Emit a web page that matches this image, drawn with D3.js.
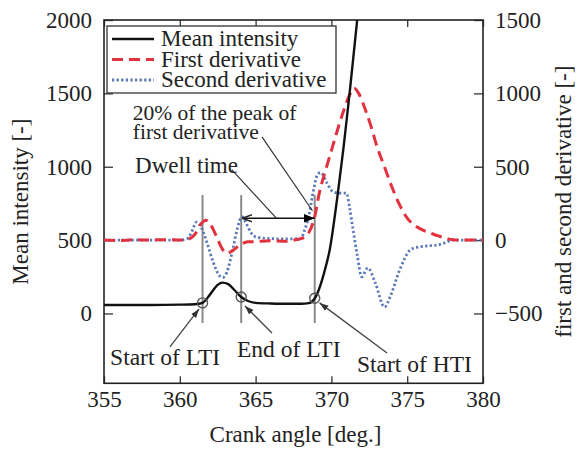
<!DOCTYPE html>
<html><head><meta charset="utf-8">
<script src="https://cdn.jsdelivr.net/npm/d3@7"></script>
<style>
html,body{margin:0;padding:0;background:#fff;}
text{font-family:"Liberation Serif","Times New Roman",serif;fill:#222;}
</style></head>
<body><svg id="chart" width="577" height="450"></svg>
<script>
// ---- data ----
const xTicks = [355, 360, 365, 370, 375, 380];
const leftTicks = [0, 500, 1000, 1500, 2000];
const rightTicks = [-500, 0, 500, 1000, 1500];
const rightTickLabels = ["\u2212500", "0", "500", "1000", "1500"];

const meanX = [355, 358, 360, 361, 361.5, 362, 362.5, 362.8, 363.2, 363.6, 364.05, 364.5, 365, 366, 367, 368, 368.5, 368.9, 369.2, 369.5, 369.9, 370.4, 370.8, 371.2, 371.7, 372.1];
const meanY = [58, 58, 60, 63, 72, 130, 195, 210, 200, 160, 112, 85, 72, 68, 66, 66, 70, 102, 170, 270, 440, 800, 1130, 1500, 2000, 2400];

const firstX = [355, 356, 357, 358, 359, 360, 360.5, 361, 361.4, 361.7, 362, 362.4, 362.8, 363.1, 363.5, 364, 364.5, 365, 366, 367, 367.5, 368, 368.5, 368.9, 369.2, 369.6, 370, 370.4, 370.8, 371.2, 371.5, 371.8, 372.2, 372.6, 373, 373.5, 374, 374.5, 375, 375.5, 376, 376.5, 377, 377.5, 378, 379, 380];
const firstY = [0, -3, 2, 0, 3, 0, 5, 40, 110, 136, 110, 30, -60, -90, -70, -30, -12, -10, -5, -8, 0, 10, 50, 160, 320, 470, 610, 750, 880, 990, 1035, 1000, 900, 780, 640, 500, 360, 240, 150, 100, 70, 50, 30, 15, 3, 0, 0];

const secondX = [355, 356, 357, 358, 359, 360, 360.5, 360.8, 361.1, 361.4, 361.8, 362.2, 362.6, 362.85, 363.1, 363.5, 363.8, 364.1, 364.4, 364.7, 365, 366, 367, 368, 368.2, 368.5, 368.8, 369.1, 369.3, 369.7, 370.1, 370.5, 371.0, 371.2, 371.4, 371.7, 372.0, 372.4, 372.9, 373.5, 373.9, 374.5, 375.2, 375.7, 376.5, 377, 377.5, 378, 379, 380];
const secondY = [0, 0, 0, 0, 0, 0, 10, 60, 123, 90, -20, -150, -240, -255, -220, -60, 80, 159, 110, 50, 22, 10, 8, 10, 60, 160, 330, 450, 460, 390, 330, 320, 320, 220, 90, -100, -250, -190, -293, -456, -380, -204, -68, -48, -38, -34, -18, 0, 0, 0];

const eventNames = ["Start of LTI", "End of LTI", "Start of HTI"];
const eventX = [361.5, 364.05, 368.9];
const eventY = [72, 112, 104];
const legendNames = ["Mean intensity", "First derivative", "Second derivative"];

// ---- layout ----
const svg = d3.select("#chart");
const L = 104, R = 483, T = 20, B = 383.3;
const x = d3.scaleLinear().domain([355, 380]).range([L, R]);
const yL = d3.scaleLinear().domain([-476, 2000]).range([B, T]);
const yR = d3.scaleLinear().domain([-976, 1500]).range([B, T]);
const FONT = '"Liberation Serif","Times New Roman",serif';

const defs = svg.append("defs");
defs.append("clipPath").attr("id", "clip").append("rect")
  .attr("x", L).attr("y", T).attr("width", R - L).attr("height", B - T);
defs.append("marker").attr("id", "ah").attr("viewBox", "0 0 10 10")
  .attr("refX", 10).attr("refY", 5).attr("markerWidth", 9).attr("markerHeight", 9)
  .attr("markerUnits", "userSpaceOnUse").attr("orient", "auto")
  .append("path").attr("d", "M0,1.5 L10,5 L0,8.5 z").attr("fill", "#333");
defs.append("marker").attr("id", "ahOpen").attr("viewBox", "0 0 10 10")
  .attr("refX", 10).attr("refY", 5).attr("markerWidth", 10).attr("markerHeight", 10)
  .attr("markerUnits", "userSpaceOnUse").attr("orient", "auto-start-reverse")
  .append("path").attr("d", "M0,1.5 L10,5 L0,8.5").attr("fill", "none").attr("stroke", "#222").attr("stroke-width", 1.4);
defs.append("marker").attr("id", "ahFill").attr("viewBox", "0 0 10 10")
  .attr("refX", 10).attr("refY", 5).attr("markerWidth", 11).attr("markerHeight", 11)
  .attr("markerUnits", "userSpaceOnUse").attr("orient", "auto")
  .append("path").attr("d", "M0,1 L10,5 L0,9 z").attr("fill", "#000");

// ---- axes ----
const fs = 23;
const gx = svg.append("g").attr("transform", `translate(0,${B})`)
  .call(d3.axisBottom(x).tickValues(xTicks).tickSizeInner(-7).tickSizeOuter(0).tickPadding(16).tickFormat(d3.format("d")));
const gxTop = svg.append("g").attr("transform", `translate(0,${T})`)
  .call(d3.axisTop(x).tickValues(xTicks).tickSizeInner(-7).tickSizeOuter(0).tickFormat(""));
const gyL = svg.append("g").attr("transform", `translate(${L},0)`)
  .call(d3.axisLeft(yL).tickValues(leftTicks).tickSizeInner(-9).tickSizeOuter(0).tickPadding(12).tickFormat(d3.format("d")));
const gyR = svg.append("g").attr("transform", `translate(${R},0)`)
  .call(d3.axisRight(yR).tickValues(rightTicks).tickSizeInner(-9).tickSizeOuter(0).tickPadding(12)
    .tickFormat((d, i) => rightTickLabels[i]));
[gx, gxTop, gyL, gyR].forEach(g => {
  g.attr("font-family", FONT);
  g.select(".domain").remove();
  g.selectAll("line").attr("stroke", "#333").attr("stroke-width", 1.3);
  g.selectAll("text").attr("font-size", fs).attr("fill", "#222").style("font-family", FONT);
});
gx.selectAll("text").attr("dy", "0.35em");

// frame
svg.append("rect").attr("x", L).attr("y", T).attr("width", R - L).attr("height", B - T)
  .attr("fill", "none").attr("stroke", "#222").attr("stroke-width", 1.6);

// axis titles
svg.append("text").attr("x", (L + R) / 2 + 2).attr("y", 442).attr("text-anchor", "middle")
  .attr("font-size", fs).text("Crank angle [deg.]");
svg.append("text").attr("transform", `translate(28,${(T + B) / 2}) rotate(-90)`)
  .attr("text-anchor", "middle").attr("font-size", fs).text("Mean intensity [-]");
svg.append("text").attr("transform", `translate(571,${(T + B) / 2}) rotate(-90)`)
  .attr("text-anchor", "middle").attr("font-size", fs).text("first and second derivative [-]");

// ---- event vertical lines ----
const plot = svg.append("g");
plot.selectAll("line.ev").data(eventX).join("line").attr("class", "ev")
  .attr("x1", d => x(d)).attr("x2", d => x(d))
  .attr("y1", yL(807)).attr("y2", yL(-65))
  .attr("stroke", "#8a8a8a").attr("stroke-width", 2);

// ---- series ----
const g = svg.append("g").attr("clip-path", "url(#clip)");
const lineL = d3.line().x(d => x(d[0])).y(d => yL(d[1])).curve(d3.curveMonotoneX);
const lineR = d3.line().x(d => x(d[0])).y(d => yR(d[1])).curve(d3.curveMonotoneX);

g.append("path").datum(secondX.map((v, i) => [v, secondY[i]])).attr("d", lineR)
  .attr("fill", "none").attr("stroke", "#5878b8").attr("stroke-width", 2.8).attr("stroke-dasharray", "2.2,2.4");
g.append("path").datum(firstX.map((v, i) => [v, firstY[i]])).attr("d", lineR)
  .attr("fill", "none").attr("stroke", "#e2323f").attr("stroke-width", 3).attr("stroke-dasharray", "11,6");
g.append("path").datum(meanX.map((v, i) => [v, meanY[i]])).attr("d", lineL)
  .attr("fill", "none").attr("stroke", "#111").attr("stroke-width", 2.4);

// circles
svg.selectAll("circle.ev").data(eventX).join("circle").attr("class", "ev")
  .attr("cx", d => x(d)).attr("cy", (d, i) => yL(eventY[i])).attr("r", 5)
  .attr("fill", "none").attr("stroke", "#555").attr("stroke-width", 1.4);

// ---- annotations ----
const ann = svg.append("g");
ann.append("line").attr("x1", x(eventX[1]) + 1).attr("x2", x(eventX[2]))
  .attr("y1", yL(649)).attr("y2", yL(649))
  .attr("stroke", "#111").attr("stroke-width", 1.4)
  .attr("marker-start", "url(#ahOpen)").attr("marker-end", "url(#ahFill)");
ann.append("line").attr("x1", x(363.44)).attr("y1", yL(978)).attr("x2", x(366.35)).attr("y2", yL(651))
  .attr("stroke", "#333").attr("stroke-width", 1.2);
ann.append("text").attr("x", x(357.05)).attr("y", yL(957)).attr("font-size", 23).text("Dwell time");
ann.append("line").attr("x1", x(365.42)).attr("y1", yL(1203)).attr("x2", x(368.75)).attr("y2", yL(700))
  .attr("stroke", "#333").attr("stroke-width", 1.2);
ann.append("text").attr("x", x(356.9)).attr("y", yL(1319)).attr("font-size", 21.5).text("20% of the peak of");
ann.append("text").attr("x", x(356.9)).attr("y", yL(1189)).attr("font-size", 21.5).text("first derivative");

const labX = [355.4, 363.77, 371.69];
const labY = [-351, -296, -399];
const ptrFromX = [359.35, 366.08, 373.67];
const ptrFromY = [-228, -133, -269];
const ptrToX = [361.27, 364.3, 369.22];
const ptrToY = [31, 51, 72];
ann.selectAll("line.ptr").data(eventNames).join("line").attr("class", "ptr")
  .attr("x1", (d, i) => x(ptrFromX[i])).attr("y1", (d, i) => yL(ptrFromY[i]))
  .attr("x2", (d, i) => x(ptrToX[i])).attr("y2", (d, i) => yL(ptrToY[i]))
  .attr("stroke", "#444").attr("stroke-width", 1.3).attr("marker-end", "url(#ah)");
ann.selectAll("text.lab").data(eventNames).join("text").attr("class", "lab")
  .attr("x", (d, i) => x(labX[i])).attr("y", (d, i) => yL(labY[i]))
  .attr("font-size", 23.5).text(d => d);

// ---- legend ----
const lg = svg.append("g");
lg.append("rect").attr("x", 107).attr("y", 26).attr("width", 229).attr("height", 67)
  .attr("fill", "#fff").attr("stroke", "#333").attr("stroke-width", 1.3);
const lgStyles = [
  {c: "#111", w: 2.4, d: null},
  {c: "#e2323f", w: 3, d: "11,6"},
  {c: "#5878b8", w: 2.8, d: "2.2,2.4"}
];
legendNames.forEach((n, i) => {
  const yy = 39 + i * 20.5;
  lg.append("line").attr("x1", 112).attr("x2", 154).attr("y1", yy).attr("y2", yy)
    .attr("stroke", lgStyles[i].c).attr("stroke-width", lgStyles[i].w)
    .attr("stroke-dasharray", lgStyles[i].d);
  lg.append("text").attr("x", 161).attr("y", yy + 7).attr("font-size", fs).text(n);
});
</script></body></html>
